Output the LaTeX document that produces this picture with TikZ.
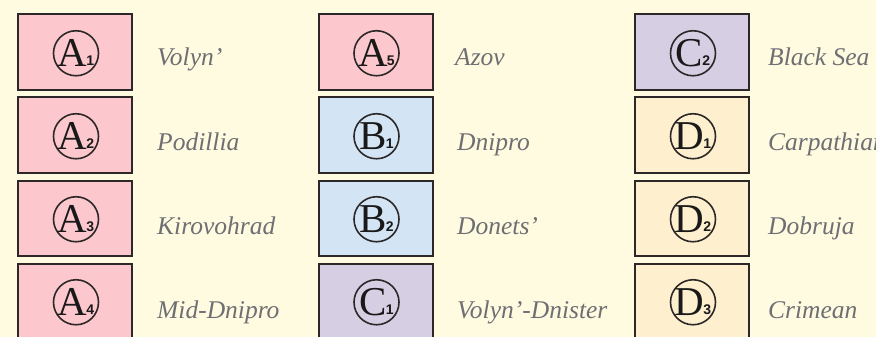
\documentclass[tikz,border=0pt]{standalone}
\usepackage{fontspec}
\setmainfont{Liberation Serif}
\newfontfamily\subf{Liberation Sans}
\definecolor{bgc}{RGB}{254,251,224}
\definecolor{pinkc}{RGB}{252,200,206}
\definecolor{bluec}{RGB}{211,228,244}
\definecolor{purplec}{RGB}{214,206,226}
\definecolor{yellowc}{RGB}{254,240,206}
\definecolor{edgec}{RGB}{45,40,40}
\definecolor{labc}{RGB}{110,110,115}
\tikzset{
  zonebox/.style={draw=edgec, line width=2pt, rectangle, minimum width=114pt, minimum height=75.5pt, inner sep=0pt},
  ring/.style={draw=edgec, line width=1.6pt, circle, minimum size=45pt, inner sep=0pt},
  code/.style={inner sep=0pt, anchor=base, text=black!90},
  lab/.style={inner sep=0pt, anchor=base west, text=labc, font=\fontsize{25.5}{25.5}\selectfont\itshape},
}
\newcommand{\zcode}[2]{{\fontsize{41}{41}\selectfont #1}\kern-1pt{\subf\bfseries\fontsize{14}{14}\selectfont\raisebox{1pt}{#2}}}
\begin{document}
\begin{tikzpicture}[x=1pt,y=-1pt]
\useasboundingbox[fill=bgc] (0,0) rectangle (876,337);
% column 1
\node[zonebox, fill=pinkc] (a1) at (75,52.25) {};
\node[zonebox, fill=pinkc] (a2) at (75,135.25) {};
\node[zonebox, fill=pinkc] (a3) at (75,218.25) {};
\node[zonebox, fill=pinkc] (a4) at (75,301.25) {};
% column 2
\node[zonebox, fill=pinkc] (a5) at (375.5,52.25) {};
\node[zonebox, fill=bluec] (b1) at (375.5,135.25) {};
\node[zonebox, fill=bluec] (b2) at (375.5,218.25) {};
\node[zonebox, fill=purplec] (c1) at (375.5,301.25) {};
% column 3
\node[zonebox, fill=purplec] (c2) at (692,52.25) {};
\node[zonebox, fill=yellowc] (d1) at (692,135.25) {};
\node[zonebox, fill=yellowc] (d2) at (692,218.25) {};
\node[zonebox, fill=yellowc] (d3) at (692,301.25) {};
% rings and codes
\foreach \n/\L/\d in {a1/A/1,a2/A/2,a3/A/3,a4/A/4,a5/A/5,b1/B/1,b2/B/2,c1/C/1,c2/C/2,d1/D/1,d2/D/2,d3/D/3}{
  \node[ring] (r\n) at ([xshift=1pt,yshift=-1pt]\n.center) {};
  \node[code] (t\n) at ([yshift=-13.5pt]r\n.center) {\zcode{\L}{\d}};
}
% labels
\node[lab] (la1) at (157,66) {Volyn’};
\node[lab] (la2) at (157,150) {Podillia};
\node[lab] (la3) at (157,234) {Kirovohrad};
\node[lab] (la4) at (157,318) {Mid-Dnipro};
\node[lab] (la5) at (455,66) {Azov};
\node[lab] (lb1) at (457,150) {Dnipro};
\node[lab] (lb2) at (457,234) {Donets’};
\node[lab] (lc1) at (457,318) {Volyn’-Dnister};
\node[lab] (lc2) at (768,66) {Black Sea};
\node[lab] (ld1) at (768,150) {Carpathian};
\node[lab] (ld2) at (768,234) {Dobruja};
\node[lab] (ld3) at (768,318) {Crimean};
\end{tikzpicture}
\end{document}
